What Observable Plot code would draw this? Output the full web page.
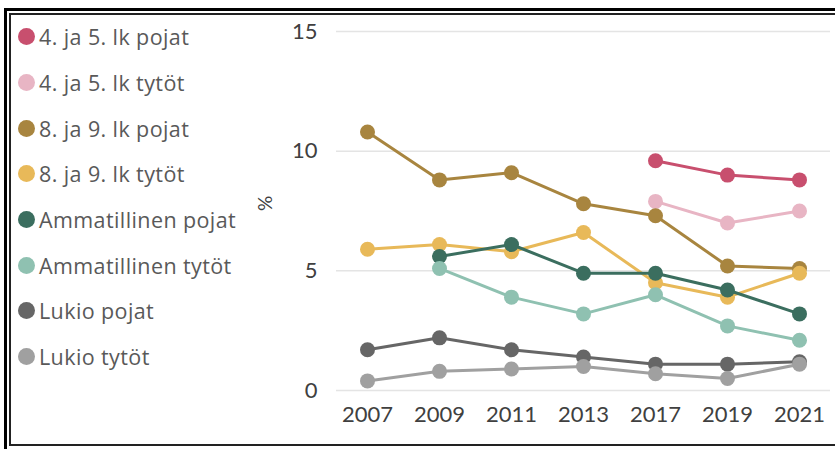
<!DOCTYPE html>
<html>
<head>
<meta charset="utf-8">
<script src="https://cdn.jsdelivr.net/npm/d3@7"></script>
<script src="https://cdn.jsdelivr.net/npm/@observablehq/plot@0.6"></script>
<style>
  html, body { margin: 0; padding: 0; background: #fff; overflow: hidden; }
  #wrap { position: relative; width: 835px; height: 449px; overflow: hidden; font-family: Lato, "Open Sans", sans-serif; }
  #outer { position: absolute; left: 4px; top: 8px; width: 900px; height: 500px; border-left: 3px solid #000; border-top: 3px solid #000; }
  #inner { position: absolute; left: 9px; top: 13px; width: 900px; height: 429px; border-left: 2px solid #222; border-top: 2px solid #222; border-bottom: 2px solid #222; }
  #chart { position: absolute; left: 0; top: 0; }
  #legend { position: absolute; left: 0; top: 0; }
  .item { position: absolute; left: 18px; display: flex; align-items: center; height: 30px; font-family: "Open Sans", sans-serif; font-size: 21.5px; letter-spacing: 0.4px; color: #595959; white-space: nowrap; }
  .sw { width: 17px; height: 17px; border-radius: 50%; margin-right: 4px; }
</style>
</head>
<body>
<div id="wrap">
  <div id="outer"></div>
  <div id="inner"></div>
  <div id="chart"></div>
  <div id="legend"></div>
</div>
<script>
const years = ["2007", "2009", "2011", "2013", "2017", "2019", "2021"];
const seriesNames = [
  "4. ja 5. lk pojat",
  "4. ja 5. lk tytöt",
  "8. ja 9. lk pojat",
  "8. ja 9. lk tytöt",
  "Ammatillinen pojat",
  "Ammatillinen tytöt",
  "Lukio pojat",
  "Lukio tytöt"
];
const seriesColors = ["#c84f6e", "#e8b5c4", "#a8853f", "#e8b959", "#3b6e5f", "#8fc1b1", "#666666", "#a0a0a0"];

const lk45Pojat   = [null, null, null, null, 9.6, 9.0, 8.8];
const lk45Tytot   = [null, null, null, null, 7.9, 7.0, 7.5];
const lk89Pojat   = [10.8, 8.8, 9.1, 7.8, 7.3, 5.2, 5.1];
const lk89Tytot   = [5.9, 6.1, 5.8, 6.6, 4.5, 3.9, 4.9];
const ammPojat    = [null, 5.6, 6.1, 4.9, 4.9, 4.2, 3.2];
const ammTytot    = [null, 5.1, 3.9, 3.2, 4.0, 2.7, 2.1];
const lukioPojat  = [1.7, 2.2, 1.7, 1.4, 1.1, 1.1, 1.2];
const lukioTytot  = [0.4, 0.8, 0.9, 1.0, 0.7, 0.5, 1.1];
const yTicks = [0, 5, 10, 15];

const seriesValues = [lk45Pojat, lk45Tytot, lk89Pojat, lk89Tytot, ammPojat, ammTytot, lukioPojat, lukioTytot];

const data = [];
seriesNames.forEach((name, i) => {
  seriesValues[i].forEach((v, j) => {
    if (v != null) data.push({series: name, year: years[j], value: v});
  });
});

const seriesMarks = seriesNames.flatMap(name => {
  const d = data.filter(r => r.series === name);
  return [
    Plot.lineY(d, {x: "year", y: "value", stroke: "series", strokeWidth: 3}),
    Plot.dot(d, {x: "year", y: "value", fill: "series", r: 7.5})
  ];
});

const chart = Plot.plot({
  width: 835,
  height: 449,
  marginLeft: 336,
  marginRight: 5,
  marginTop: 31,
  marginBottom: 59,
  style: {background: "transparent", fontFamily: "Lato, 'Open Sans', sans-serif", color: "#404040"},
  x: {type: "point", domain: years, padding: 0.4, label: null},
  y: {domain: [0, 15], label: null},
  color: {domain: seriesNames, range: seriesColors},
  marks: [
    Plot.ruleY(yTicks, {stroke: "#e4e4e4", strokeWidth: 1.5}),
    Plot.axisX({tickSize: 0, tickPadding: 16, fontSize: 22, label: null}),
    Plot.axisY({ticks: yTicks, tickSize: 0, tickPadding: 19, fontSize: 22, label: null}),
    Plot.text(["%"], {frameAnchor: "left", dx: -71, rotate: -90, fontSize: 19, fill: "#404040"}),
    ...seriesMarks
  ]
});
document.getElementById("chart").appendChild(chart);

const legend = document.getElementById("legend");
seriesNames.forEach((name, i) => {
  const item = document.createElement("div");
  item.className = "item";
  item.style.top = (36.7 + i * 45.7 - 15) + "px";
  const sw = document.createElement("div");
  sw.className = "sw";
  sw.style.background = seriesColors[i];
  const label = document.createElement("span");
  label.textContent = name;
  item.appendChild(sw);
  item.appendChild(label);
  legend.appendChild(item);
});
</script>
</body>
</html>
